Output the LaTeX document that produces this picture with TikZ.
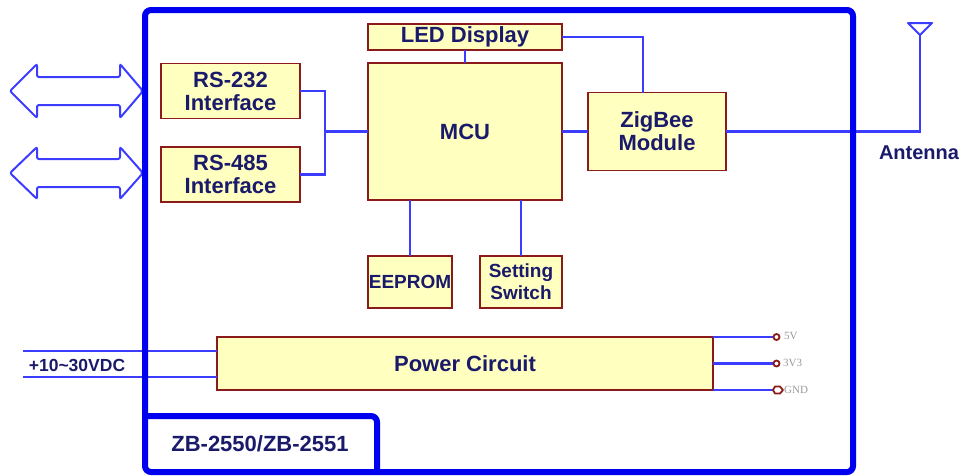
\documentclass[tikz,border=0pt]{standalone}
\usepackage{fontspec}
\setmainfont{Liberation Sans}
\begin{document}
\begin{tikzpicture}[x=1pt,y=-1pt,
  every node/.style={font=\bfseries, text=navy},
  blk/.style={draw=boxred, fill=boxfill, line width=1.8pt, inner sep=0pt, outer sep=0pt, align=center, font=\fontsize{22}{23}\bfseries},
  conn/.style={draw=linkblue, line width=2.8pt},
  frame/.style={draw=frameblue, line width=6pt, rounded corners=6pt},
  dbl/.style={draw=linkblue, line width=2pt, rounded corners=2pt},
  term/.style={draw=boxred, line width=1.8pt},
  tlabel/.style={font=\fontsize{11}{11}\selectfont\fontspec{Liberation Serif}, text=gray!80, anchor=west, inner sep=0pt}
]
\definecolor{navy}{RGB}{26,26,107}
\definecolor{boxred}{RGB}{139,26,26}
\definecolor{boxfill}{RGB}{255,255,192}
\definecolor{linkblue}{RGB}{60,60,255}
\definecolor{frameblue}{RGB}{0,0,240}
\useasboundingbox (0,0) rectangle (968,475);

% blocks
\node[blk, minimum width=194pt, minimum height=26pt] (led) at (465,37) {LED Display};
\node[blk, minimum width=139pt, minimum height=55pt] (rs232) at (230.5,91) {RS-232\\Interface};
\node[blk, minimum width=139pt, minimum height=55pt] (rs485) at (230.5,174.5) {RS-485\\Interface};
\node[blk, minimum width=194pt, minimum height=137pt] (mcu) at (465,131.5) {MCU};
\node[blk, minimum width=138pt, minimum height=78pt] (zig) at (657,131.5) {ZigBee\\Module};
\node[blk, minimum width=84pt, minimum height=52pt, font=\fontsize{19}{20}\bfseries] (eeprom) at (410,282) {EEPROM};
\node[blk, minimum width=82pt, minimum height=52pt, font=\fontsize{19}{22}\bfseries] (sw) at (521,282) {Setting\\Switch};
\node[blk, minimum width=496pt, minimum height=53pt] (pwr) at (465,363.5) {Power Circuit};

% connectors
\coordinate (j) at (325,131.5);
\draw[conn] (rs232.east) -| (j) |- (rs485.east);
\draw[conn] (j) -- (mcu.west);
\draw[conn] (mcu.east) -- (zig.west);
\draw[conn] (led.south) -- (mcu.north);
\draw[conn] (led.east) -| ([xshift=-14pt]zig.north);
\draw[conn] (eeprom.north) -- (eeprom.north |- mcu.south);
\draw[conn] (sw.north) -- (sw.north |- mcu.south);

% antenna
\coordinate (ant) at (920,131.5);
\coordinate (anttop) at (920,35);
\draw[conn] (zig.east) -- (ant) -- (anttop);
\draw[draw=linkblue, line width=2pt, line join=round] (anttop) -- (908,23) -- (932,23) -- cycle;
\node[font=\fontsize{20}{20}\bfseries] (antlabel) at (919,153) {Antenna};

% power input
\coordinate (in1) at (23,351);
\coordinate (in2) at (23,377);
\draw[conn] (in1) -- (in1 -| pwr.west);
\draw[conn] (in2) -- (in2 -| pwr.west);
\node[font=\fontsize{17.5}{18}\bfseries] (vin) at (77,365) {+10\char`~30VDC};

% power outputs
\coordinate (o1) at (773,337);
\coordinate (o2) at (773,363.5);
\coordinate (o3) at (773,390);
\draw[conn] (pwr.north east) -- (o1);
\draw[conn] (pwr.east) -- (o2);
\draw[conn] (pwr.south east) -- (o3);
\draw[term] ([xshift=3.5pt]o1) circle (3pt);
\draw[term] ([xshift=3.5pt]o2) circle (3pt);
\draw[term, line join=round] (o3) -- ++(2,-3.5) -- ++(5,0) -- ++(3,3.5) -- ++(-3,3.5) -- ++(-5,0) -- cycle;
\node[tlabel] (l5v) at (784,336) {5V};
\node[tlabel] (l3v3) at (783,363) {3V3};
\node[tlabel] (lgnd) at (784,390) {GND};

% double arrows
\draw[dbl] (10,91) -- (37,64) -- (37,77) -- (120,77) -- (120,64) -- (143,91) -- (120,118) -- (120,105) -- (37,105) -- (37,118) -- cycle;
\draw[dbl] (10,173) -- (37,147) -- (37,159) -- (120,159) -- (120,147) -- (143,173) -- (120,199) -- (120,187) -- (37,187) -- (37,199) -- cycle;

% frame
\draw[frame] (145,10) rectangle (853,472);
\draw[frame] (145,416) -| (377,472);
\node[font=\fontsize{22}{22}\bfseries] (model) at (260,444) {ZB-2550/ZB-2551};
\end{tikzpicture}
\end{document}
